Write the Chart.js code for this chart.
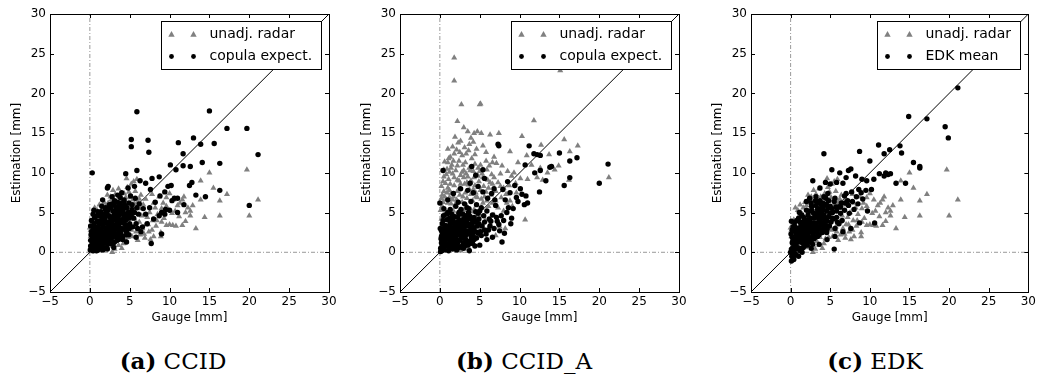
<!DOCTYPE html>
<html>
<head>
<meta charset="utf-8">
<script src="https://cdn.jsdelivr.net/npm/chart.js@4.4.1/dist/chart.umd.min.js"></script>
<style>
  body { margin: 0; background: #fff; width: 1039px; height: 378px; overflow: hidden; position: relative; }
  canvas { position: absolute; top: 0; }
  .cap { position: absolute; top: 347px; font-family: "DejaVu Serif", serif; font-size: 23px; color: #000;
         transform: translateX(-50%); white-space: nowrap; line-height: 1.2; }
</style>
</head>
<body>
<canvas id="pa" width="345" height="330" style="left:0px"></canvas>
<canvas id="pb" width="345" height="330" style="left:350px"></canvas>
<canvas id="pc" width="338" height="330" style="left:701px"></canvas>
<div class="cap" style="left:173px"><b>(a)</b> CCID</div>
<div class="cap" style="left:524px"><b>(b)</b> CCID_A</div>
<div class="cap" style="left:875px"><b>(c)</b> EDK</div>

<script>
// axis ticks (both axes, all panels)
const tickValues = [-5, 0, 5, 10, 15, 20, 25, 30];

// [gauge, estimate] pairs (dense cores estimated)
// unadjusted radar used in panels (a) and (c)
const radarUnadj = [
  [19.7,10.4],[21.1,6.6],[20.0,4.6],[15.0,10.0],[15.5,8.1],[17.2,7.3],[16.3,6.5],[16.3,4.6],[14.4,4.4],[13.3,3.0],
  [13.9,9.0],[13.9,6.6],[12.6,5.2],[12.6,4.6],[12.3,5.6],[12.0,3.9],[11.8,7.0],[11.6,6.6],[11.3,6.2],[11.0,5.9],
  [10.7,5.2],[10.4,3.4],[10.8,3.3],[10.0,3.5],[9.6,3.4],[10.0,7.4],[9.6,6.9],[9.2,6.2],[9.0,5.5],[8.9,2.0],
  [8.9,2.5],[8.0,2.0],[7.6,1.6],[8.5,4.8],[8.2,5.6],[8.0,6.2],[7.8,7.3],[7.5,5.0],[7.2,4.4],[7.0,3.5],
  [6.8,2.3],[6.5,4.6],[6.3,5.5],[6.0,6.3],[6.2,3.8],[5.8,2.6],[5.6,4.2],[5.5,8.9],[5.9,9.2],[5.2,8.6],
  [4.6,9.3],[4.9,7.6],[4.5,6.9],[5.0,5.5],[4.8,3.0],[4.4,1.7],[4.0,0.5],[3.6,0.9],[2.8,0.0],[3.2,7.3],
  [2.6,7.0],[2.2,7.2],[2.0,5.9],[1.8,6.3],[1.2,6.0],[1.5,4.8],[1.0,3.2],[0.6,2.4],[0.3,1.2],[0.2,0.3],
  [0.5,0.1],[1.1,0.4],[1.6,1.0],[2.3,1.5],[2.0,2.8],[2.6,3.5],[3.0,4.4],[3.5,5.2],[3.9,6.1],[3.4,2.6],
  [3.9,3.4],[4.2,4.6],[1.3,2.0],[0.8,1.0],[2.9,2.0],[3.7,1.9],[5.3,2.0],[6.0,1.5],[6.6,3.0],[7.4,2.6],
  [8.3,3.3],[9.3,4.3],[10.3,4.9],[11.2,4.5],[12.0,5.0],[9.6,5.8],[10.5,6.6],[8.7,7.0],[7.0,6.7],[6.4,7.2],
  [5.7,7.7],[3.6,8.0],[2.9,7.8],[0.4,3.5],[0.1,2.0],[0.9,5.3],[0.0,3.1],[0.1,2.8],[4.1,5.8],[5.4,6.6],
  [6.7,6.0],[7.9,4.0],[9.0,3.8],[11.6,3.4],[12.9,5.9],
  [0.2,3.4],[0.4,4.1],[0.7,3.8],[1.0,4.4],[1.3,5.0],[0.6,5.6],[1.6,5.6],[2.3,6.2],[2.7,6.6],[3.3,6.4],
  [3.8,7.0],[4.3,7.4],[4.7,8.2],[2.0,4.3],[2.5,5.1],[3.0,5.8],[3.5,6.0],[4.0,6.8],[4.6,6.1],[5.1,6.9],
  [5.6,6.1],[6.2,6.7],[0.3,0.8],[0.7,0.5],[1.4,0.2],[1.9,0.6],[2.4,0.8],[3.1,0.4],[3.3,1.4],[4.2,1.1],
  [4.8,1.9],[5.2,2.8],[5.7,3.2],[6.3,2.2],[6.9,1.8],[7.3,3.5],[7.8,2.8],[8.4,4.0],[1.0,2.0],[1.5,2.6],
  [2.2,2.0],[2.8,2.8],[3.4,3.5],[4.0,4.1],[4.6,5.0],[5.0,4.2]
];
const copulaA = [
  [5.9,17.7],[15.0,17.8],[17.2,15.6],[19.7,15.6],[21.1,12.3],[20.0,5.9],[5.2,14.2],[5.2,13.3],[7.3,14.1],[7.4,12.6],
  [13.0,14.4],[11.1,13.8],[13.9,13.6],[15.6,13.7],[11.7,12.4],[0.3,10.0],[10.1,11.0],[10.8,10.4],[11.7,10.9],[12.6,10.8],
  [14.1,11.3],[16.3,11.2],[16.3,7.8],[14.5,7.0],[13.3,7.2],[12.5,8.4],[12.8,8.8],[11.8,6.0],[10.2,8.4],[9.8,8.3],
  [8.7,9.5],[7.8,9.3],[4.5,9.9],[5.9,10.3],[2.3,8.3],[2.2,8.1],[7.7,1.1],[9.0,2.3],[10.6,6.8],[11.0,6.8],
  [10.3,6.5],[9.5,5.4],[9.0,5.0],[8.7,4.6],[8.0,4.2],[7.2,3.6],[6.6,3.2],[6.0,3.0],[7.6,7.9],[7.0,8.7],
  [6.3,9.0],[5.6,8.3],[4.8,8.1],[3.5,7.2],[3.1,6.5],[2.8,7.0],[4.0,7.5],[1.5,5.8],[1.0,5.1],[0.6,4.4],
  [0.2,2.6],[0.1,1.5],[0.2,0.6],[0.6,0.9],[1.1,1.6],[1.4,2.4],[1.9,3.1],[2.4,3.8],[2.9,4.5],[3.3,5.3],
  [3.8,5.9],[4.3,6.6],[4.9,6.2],[5.3,5.4],[4.7,4.5],[4.2,3.7],[3.7,3.0],[3.2,2.3],[2.7,1.7],[2.2,1.1],
  [1.6,0.7],[1.0,0.3],[0.4,0.2],[0.8,2.7],[1.2,3.5],[1.7,4.2],[2.1,5.0],[2.6,5.6],[0.4,3.2],[0.9,3.9],
  [2.0,2.0],[2.5,2.8],[3.0,3.4],[3.5,4.1],[4.0,4.9],[4.5,5.6],[1.3,1.0],[1.8,1.6],[2.3,2.4],[2.8,3.0],
  [3.4,3.7],[3.9,2.4],[4.4,3.0],[5.0,3.6],[5.5,4.3],[6.1,4.8],[6.7,5.5],[6.2,6.1],[5.7,6.8],[5.1,7.1],
  [3.4,1.5],[2.9,1.0],[4.6,2.2],[5.8,1.9],[6.4,2.6],[7.0,4.8],[7.5,5.6],[8.2,6.3],[8.8,7.1],[9.4,7.6],
  [0.2,4.0],[0.5,5.3],[0.1,3.3],[1.6,6.6],[3.8,6.9],[4.6,1.3],[3.0,0.6],[9.4,4.8],[10.0,5.3],[11.0,5.0],
  [1.9,4.6],[2.6,4.3],[3.3,4.8],[1.1,2.6],[0.6,1.8],[1.5,1.3],
  [0.1,0.8],[0.3,1.3],[0.15,2.2],[0.35,2.7],[0.05,0.3],[0.45,1.9],[0.7,0.5],[0.75,1.3],[0.65,2.2],[0.9,3.1],
  [0.55,3.6],[0.85,0.2],[0.95,2.0],[1.2,0.6],[1.3,1.6],[1.15,2.3],[1.4,2.9],[1.25,3.9],[1.45,4.5],[1.05,1.1],
  [1.6,0.3],[1.7,1.2],[1.55,1.9],[1.8,2.5],[1.65,3.3],[1.9,3.9],[1.75,4.8],[1.95,5.4],[2.1,0.6],[2.2,1.5],
  [2.05,2.5],[2.3,3.2],[2.15,3.7],[2.4,4.6],[2.25,5.3],[2.45,6.0],[2.6,1.1],[2.7,2.1],[2.55,3.1],[2.8,3.6],
  [2.65,4.4],[2.9,5.2],[2.75,6.1],[2.95,2.6],[3.1,1.3],[3.2,2.0],[3.05,2.9],[3.3,3.4],[3.15,4.1],[3.4,4.6],
  [3.25,5.7],[3.45,6.3],[3.6,1.6],[3.7,2.6],[3.55,3.3],[3.8,4.0],[3.65,4.6],[3.9,5.2],[3.75,6.2],[3.95,3.0],
  [4.1,2.0],[4.2,2.9],[4.05,4.0],[4.3,4.6],[4.15,5.3],[4.4,5.9],[4.25,6.4],[4.45,3.5],[4.6,2.6],[4.7,3.3],
  [4.55,4.1],[4.8,5.0],[4.65,5.6],[4.9,4.3],[4.95,3.0],[5.2,4.6],[5.4,3.2],[5.6,5.0],[5.8,3.6],[5.3,6.0],
  [5.9,5.6],
  [0.3,0.3],[0.5,1.5],[0.8,1.8],[1.0,2.2],[1.3,2.8],[1.6,3.6],[1.9,4.3],[2.2,3.0],[2.5,3.4],[2.8,4.1],
  [3.1,4.9],[3.4,5.1],[3.7,5.4],[4.0,5.8],[1.2,4.6],[0.7,3.2],[0.3,1.8],[1.8,0.4],[2.4,1.9],[3.0,2.6],
  [3.6,3.5],[4.2,4.2],[4.5,4.8],[2.0,2.7],[2.7,2.4],[3.3,2.9],[3.9,3.8],[1.5,1.6],[1.0,0.8],[0.6,0.5],
  [2.2,0.4],[3.5,2.0],[4.1,1.6],[4.9,2.2],[5.1,5.0],[1.4,5.1],[0.9,4.6],[0.4,4.8],[2.0,5.6],[3.0,6.0]
];
// unadjusted radar used in panel (b)
const radarUnadjB = [
  [1.8,24.5],[1.8,21.6],[2.7,18.6],[5.1,18.7],[5.0,18.6],[2.2,16.5],[11.8,16.6],[3.0,15.7],[3.5,15.2],[4.3,15.0],
  [4.7,15.2],[5.2,15.0],[6.3,14.8],[7.4,15.0],[1.9,14.5],[10.3,14.6],[15.6,14.2],[17.3,13.4],[12.7,13.5],[16.3,12.7],
  [21.2,9.4],[13.5,10.0],[14.4,10.4],[16.2,9.1],[10.7,4.1],[8.8,12.7],[15.1,22.9],[1.6,13.3],[2.1,12.9],[3.9,14.4],
  [3.7,13.6],[4.6,13.0],[5.8,12.6],[6.8,12.0],[1.3,12.0],[1.5,11.0],[2.4,11.5],[3.2,11.3],[4.0,11.8],[5.1,11.0],
  [6.2,10.9],[7.1,11.2],[7.8,10.9],[8.5,10.2],[9.3,10.0],[9.8,11.3],[10.9,12.2],[11.5,11.0],[12.2,9.4],[12.9,9.1],
  [14.9,10.9],[13.7,12.3],[0.9,10.5],[0.5,9.5],[0.2,8.3],[0.3,7.2],[0.1,5.3],[0.4,6.3],[0.7,8.7],[1.1,9.2],
  [1.6,9.9],[2.0,10.3],[2.6,9.7],[3.0,10.3],[3.5,9.5],[4.2,10.2],[4.8,9.6],[5.4,9.4],[6.0,9.1],[6.6,8.6],
  [7.3,8.8],[8.0,8.1],[8.7,8.4],[9.5,8.7],[10.1,9.3],[1.2,7.8],[1.8,8.4],[2.4,8.0],[3.1,8.6],[3.7,7.9],
  [4.4,8.4],[5.1,7.8],[5.8,7.6],[6.4,7.2],[7.0,6.5],[7.7,6.9],[8.4,6.2],[9.1,5.8],[0.8,6.6],[1.4,6.1],
  [2.1,6.6],[2.8,6.3],[3.4,6.8],[4.1,6.5],[4.7,6.9],[5.4,6.2],[6.1,5.8],[6.8,4.7],[7.5,3.2],[8.2,3.0],
  [0.6,4.5],[1.1,4.8],[1.7,5.2],[2.3,5.0],[3.0,5.3],[3.6,4.9],[4.3,5.4],[5.0,4.7],[5.7,4.0],[0.3,3.2],
  [0.9,3.3],[1.5,3.7],[2.2,3.4],[2.9,3.8],[0.2,1.8],[0.7,2.1],[1.3,2.0],[0.4,0.5],[1.0,0.9],[2.0,1.4],
  [3.0,1.1],[2.6,0.2],[3.6,0.6],[4.0,2.2],[5.0,2.8],[6.2,3.3],[7.0,2.1],[1.0,13.0],[2.6,14.0],[3.3,12.4],
  [0.6,11.4],[1.2,10.1],[9.0,9.6],[11.0,9.2],[12.6,10.6],[7.6,9.9],[6.5,9.8],
  [0.2,4.2],[0.5,7.7],[0.9,7.5],[1.3,8.6],[1.7,7.0],[2.2,9.1],[2.6,8.6],[3.0,9.4],[3.4,8.8],[3.9,9.0],
  [4.5,7.5],[4.9,8.9],[5.5,8.3],[6.1,8.1],[6.8,9.4],[1.0,11.3],[1.8,12.4],[2.8,12.2],[3.6,12.8],[4.4,12.3],
  [5.4,13.4],[2.3,13.8],[4.2,13.9],[0.4,8.9],[0.8,9.8],[1.4,10.6],[2.2,10.9],[2.9,11.0],[3.7,10.6],[4.4,11.1],
  [5.0,10.2],[5.8,11.5],[6.6,11.3],[0.3,5.8],[0.7,5.2],[1.2,6.9],[1.9,6.0],[2.5,7.2],[3.2,7.5],[3.9,7.3],
  [4.5,7.0],[5.2,6.7],[5.9,6.5],[6.6,6.2],[7.3,5.6],[8.0,5.2],[8.8,6.5],[9.6,7.5],[1.5,4.2],[2.6,4.4],
  [3.4,5.8],[4.0,5.1],[0.9,1.5],[1.8,0.4],[2.4,2.4],[3.3,0.4],
  [0.2,6.8],[0.6,7.0],[1.0,8.1],[1.4,7.4],[1.8,9.4],[2.4,9.0],[2.8,10.1],[3.3,9.9],[3.8,10.3],[4.3,9.4],
  [4.8,10.6],[5.3,9.9],[5.9,10.4],[1.1,11.8],[1.7,11.5],[2.5,12.6],[3.1,13.2],[0.5,10.4],[1.0,6.2],[1.6,6.6],
  [2.2,7.7],[2.9,7.0],[3.6,8.5],[4.2,7.9],[4.8,8.2],[5.6,7.0],[6.3,8.8],[7.0,7.7],[7.6,8.3],[8.3,7.3]
];
const copulaB = [
  [21.1,11.1],[20.0,8.7],[17.2,11.9],[16.3,11.5],[16.3,9.4],[15.6,8.4],[15.0,12.5],[14.0,10.8],[13.8,10.7],[13.3,9.0],
  [12.6,12.2],[12.2,12.3],[11.8,12.4],[12.5,7.6],[12.6,10.3],[11.9,10.0],[11.2,13.4],[11.0,6.2],[10.8,7.1],[10.7,11.0],
  [7.3,13.6],[0.4,10.3],[0.0,6.2],[7.8,1.3],[3.7,0.2],[5.4,10.4],[4.0,10.8],[7.4,13.4],[5.6,9.3],[8.5,8.9],
  [9.4,8.4],[10.1,8.0],[8.8,7.5],[9.6,6.9],[10.3,7.3],[10.6,6.0],[9.2,5.5],[8.4,5.0],[7.7,4.6],[8.9,3.6],
  [7.0,5.9],[6.5,7.4],[6.0,6.8],[5.4,7.6],[4.8,8.3],[4.2,7.5],[3.5,7.8],[2.6,8.0],[1.7,7.4],[1.0,6.6],
  [0.5,5.5],[2.3,6.3],[3.1,6.1],[3.9,6.4],[4.6,6.0],[5.2,5.6],[5.9,5.2],[6.6,4.7],[7.2,3.9],[6.3,3.3],
  [5.6,2.8],[4.9,3.6],[4.3,4.4],[3.6,5.0],[2.9,4.8],[2.2,4.4],[1.5,4.8],[0.9,4.1],[0.3,3.6],[0.6,2.8],
  [1.2,3.1],[1.8,3.6],[2.5,3.3],[3.2,3.9],[3.8,3.2],[4.5,2.6],[5.2,2.1],[5.9,1.6],[6.6,1.9],[4.0,1.5],
  [3.3,2.2],[2.7,2.5],[2.0,2.3],[1.4,2.0],[0.8,1.6],[0.2,1.2],[0.5,0.4],[1.1,0.7],[1.7,1.1],[2.3,1.5],
  [2.9,1.2],[3.5,0.9],[4.4,0.8],[0.3,2.3],[0.1,0.1],[1.3,5.4],[2.0,5.8],[6.2,4.2],[7.5,2.7],[8.1,2.4],
  [5.0,0.9],[4.8,4.9],[5.5,4.6],[6.9,6.6],[7.9,7.9],[8.2,6.6],[9.8,6.4],[3.8,8.7],[4.5,9.7],[6.8,8.0],
  [1.0,2.6],[2.5,4.0],[3.0,3.0],[3.4,2.7],[4.1,3.7],[1.6,2.7],[2.1,3.0],[2.7,3.7],[3.3,4.4],[3.9,4.2],
  [4.5,5.1],[1.2,4.2],[0.6,3.4],[0.2,2.0],
  [0.1,0.5],[0.3,0.9],[0.15,1.7],[0.35,2.9],[0.05,3.0],[0.45,4.6],[0.25,0.2],[0.6,0.3],[0.75,1.1],[0.65,2.2],
  [0.9,3.3],[0.55,1.9],[0.85,4.8],[0.95,2.8],[1.1,0.2],[1.3,1.3],[1.15,2.4],[1.4,3.6],[1.25,4.3],[1.45,0.8],
  [1.05,1.7],[1.6,0.4],[1.7,1.7],[1.55,3.0],[1.8,2.6],[1.65,4.1],[1.9,0.8],[1.95,3.2],[2.1,0.3],[2.2,1.1],
  [2.05,2.0],[2.3,2.9],[2.15,3.8],[2.4,5.0],[2.45,2.2],[2.6,0.7],[2.7,1.8],[2.55,2.9],[2.8,3.9],[2.65,5.4],
  [2.9,2.2],[2.95,0.5],[3.1,0.8],[3.2,1.7],[3.05,2.6],[3.3,3.3],[3.15,4.6],[3.4,5.6],[3.45,1.3],[3.6,1.4],
  [3.7,2.3],[3.55,3.6],[3.8,4.5],[3.65,5.5],[3.9,2.7],[3.95,1.9],[4.1,1.1],[4.2,2.0],[4.3,3.1],[4.4,4.0],
  [4.6,1.8],[4.7,3.3],[4.9,4.2],[4.8,2.4],[5.0,5.2],[5.3,3.3],[5.6,3.8],[5.8,2.3],[6.1,2.8],[6.4,3.9],
  [6.8,3.0],[7.1,4.4],[7.4,3.5],[8.0,4.0],[8.6,5.6],[9.0,4.3],
  [0.3,0.6],[0.5,1.4],[0.8,2.3],[1.0,3.0],[1.3,3.8],[1.6,2.2],[1.9,1.6],[2.2,2.6],[2.5,1.5],[2.8,3.2],
  [3.1,3.6],[3.4,4.1],[3.7,2.7],[4.0,3.3],[4.3,1.6],[1.2,1.0],[0.7,0.8],[1.8,1.0],[2.4,0.6],[3.0,1.9],
  [3.6,1.0],[4.2,2.5],[4.6,3.8],[5.1,2.6],[0.4,4.0],[1.0,5.0],[1.8,4.5],[2.4,4.8],[3.0,4.2],[3.6,4.6],
  [0.2,2.7],[0.9,2.0],[1.5,1.4],[2.0,3.5],[2.6,2.8],[3.2,2.3]
];
const edkMean = [
  [21.1,20.7],[14.9,17.1],[17.2,16.8],[19.5,15.8],[19.9,14.4],[4.2,12.4],[8.7,12.7],[11.1,13.5],[11.8,12.4],[12.5,12.9],
  [13.8,13.4],[14.0,12.5],[15.5,11.3],[16.3,10.8],[16.3,10.6],[10.0,11.5],[7.6,10.5],[7.3,10.3],[6.2,10.0],[5.2,10.4],
  [10.5,9.2],[13.3,8.7],[12.6,9.9],[12.0,10.0],[11.8,9.6],[14.5,8.7],[8.7,3.7],[10.6,3.7],[5.5,0.4],[12.3,9.8],
  [11.2,9.9],[9.6,9.0],[9.0,9.2],[8.2,9.6],[7.0,9.4],[6.6,8.7],[5.8,8.8],[5.0,8.6],[4.4,8.8],[3.7,8.1],
  [2.8,9.0],[3.2,7.0],[2.4,6.8],[2.0,6.4],[9.5,7.8],[10.2,7.9],[8.9,7.5],[8.3,7.0],[7.7,7.6],[7.2,6.5],
  [6.8,7.1],[6.4,6.2],[6.0,5.7],[5.5,6.4],[5.0,5.8],[4.6,5.2],[4.0,5.7],[3.5,5.0],[3.0,4.3],[2.5,3.6],
  [2.0,3.0],[1.5,2.4],[1.0,1.8],[0.6,1.2],[0.3,0.6],[0.1,-1.1],[0.3,-0.6],[0.7,-0.3],[1.2,0.2],[1.8,0.9],
  [2.3,1.6],[2.8,2.2],[3.3,2.8],[3.8,3.4],[4.3,3.9],[4.8,4.5],[5.3,5.0],[5.8,4.4],[6.3,4.9],[6.8,5.3],
  [7.3,5.9],[7.8,6.4],[8.5,6.1],[9.1,6.7],[9.7,5.2],[7.6,3.0],[6.6,2.6],[5.6,2.0],[4.6,1.6],[3.6,1.0],
  [2.6,0.5],[0.0,0.0],[0.2,1.9],[0.4,2.8],[0.1,3.9],[0.5,3.3],[0.8,2.5],[1.3,3.3],[1.7,4.0],[2.2,4.7],
  [2.7,5.3],[3.2,5.9],[3.7,6.5],[4.2,7.0],[4.7,7.4],[1.0,-0.5],[0.4,0.2],[1.5,1.2],[2.0,1.8],[2.5,2.6],
  [3.0,3.1],[3.5,3.8],[4.0,4.4],[4.5,3.3],[5.1,3.8],[5.6,3.0],[6.1,3.6],[1.1,5.0],[0.8,4.0],[1.6,3.1],
  [2.1,3.9],[2.9,4.9],[3.4,4.4],[1.3,1.4],[0.5,0.9],[0.2,-0.2],
  [0.1,0.4],[0.2,1.2],[0.05,2.3],[0.3,3.2],[0.15,-0.5],[0.4,-0.9],[0.5,0.6],[0.6,1.7],[0.7,2.2],[0.9,3.0],
  [0.55,-0.2],[1.1,0.5],[1.2,1.3],[1.05,2.3],[1.35,2.8],[1.2,3.8],[1.45,0.0],[1.4,1.8],[1.6,0.6],[1.7,1.6],
  [1.55,2.5],[1.8,3.5],[1.65,4.4],[1.9,2.2],[1.95,1.3],[2.1,0.9],[2.2,2.1],[2.05,3.4],[2.3,3.1],[2.15,4.1],
  [2.4,5.2],[2.45,1.8],[2.6,1.3],[2.7,2.9],[2.55,4.3],[2.8,3.7],[2.65,5.8],[2.9,2.5],[2.95,1.7],[3.1,1.9],
  [3.2,3.4],[3.05,4.8],[3.3,2.5],[3.15,6.5],[3.4,5.4],[3.45,3.0],[3.6,2.2],[3.7,4.0],[3.55,5.5],[3.8,4.8],
  [3.65,2.9],[3.9,6.0],[3.95,3.7],[4.1,2.9],[4.2,4.7],[4.05,6.2],[4.3,3.4],[4.15,5.3],[4.4,4.3],[4.45,6.8],
  [4.6,3.9],[4.7,5.6],[4.55,2.5],[4.8,6.5],[4.9,3.3],[5.0,4.9],[5.2,5.5],[5.4,4.2],[5.6,6.8],[5.8,5.2],
  [5.9,3.8],[6.3,5.7],[6.5,4.0],[6.9,6.2],[7.4,4.9],[7.0,7.4],[8.0,5.4],[8.6,7.9],
  [0.3,1.5],[0.6,2.6],[0.9,1.4],[1.2,2.7],[1.5,3.6],[1.8,2.9],[2.1,2.6],[2.4,3.9],[2.7,3.4],[3.0,3.7],
  [3.3,4.9],[3.6,4.3],[3.9,5.1],[4.2,5.9],[4.5,6.1],[1.0,4.3],[0.5,3.8],[0.2,2.8],[1.4,4.7],[2.0,5.3],
  [2.6,6.2],[3.4,6.2],[1.6,1.9],[2.2,1.3],[2.8,1.0],[3.4,2.0],[4.0,2.5],[4.6,2.9],[5.3,4.3],[5.7,5.7],
  [0.8,0.4],[0.4,-0.4],[0.7,0.9]
];

const GRAY = 'rgb(128,128,128)';
const minusFmt = v => (v < 0 ? '\u2212' + Math.abs(v) : String(v));

// frame, inward ticks and in-plot legend, matplotlib style
const framePlugin = {
  id: 'frame',
  afterDatasetsDraw(chart, args, opts) {
    const { ctx, chartArea: a, scales } = chart;
    const xs = scales.x, ys = scales.y;
    ctx.save();
    ctx.strokeStyle = '#000';
    ctx.lineWidth = 1;
    ctx.beginPath();
    tickValues.forEach(v => {
      const px = Math.round(xs.getPixelForValue(v)) + 0.5;
      ctx.moveTo(px, a.bottom); ctx.lineTo(px, a.bottom - 4);
      ctx.moveTo(px, a.top); ctx.lineTo(px, a.top + 4);
      const py = Math.round(ys.getPixelForValue(v)) + 0.5;
      ctx.moveTo(a.left, py); ctx.lineTo(a.left + 4, py);
      ctx.moveTo(a.right, py); ctx.lineTo(a.right - 4, py);
    });
    ctx.stroke();
    ctx.strokeRect(Math.round(a.left) + 0.5, Math.round(a.top) + 0.5,
                   Math.round(a.right - a.left), Math.round(a.bottom - a.top));

    // legend box
    ctx.font = '14px "DejaVu Sans"';
    const labels = opts.labels;
    const tw = Math.max(...labels.map(t => ctx.measureText(t).width));
    const w = Math.round(48 + tw + 9), h = 48;
    const bx = Math.round(a.right - 8 - w) + 0.5, by = Math.round(a.top + 7) + 0.5;
    ctx.fillStyle = '#fff';
    ctx.fillRect(bx, by, w, h);
    ctx.strokeRect(bx, by, w, h);
    const rows = [by + 13, by + 35];
    [bx + 10, bx + 32].forEach(mx => {
      ctx.fillStyle = GRAY;
      ctx.beginPath();
      ctx.moveTo(mx, rows[0] - 3.5);
      ctx.lineTo(mx + 3.2, rows[0] + 2.2);
      ctx.lineTo(mx - 3.2, rows[0] + 2.2);
      ctx.closePath();
      ctx.fill();
      ctx.fillStyle = '#000';
      ctx.beginPath();
      ctx.arc(mx, rows[1], 2.4, 0, Math.PI * 2);
      ctx.fill();
    });
    ctx.fillStyle = '#000';
    ctx.textBaseline = 'middle';
    ctx.textAlign = 'left';
    ctx.fillText(labels[0], bx + 48, rows[0]);
    ctx.fillText(labels[1], bx + 48, rows[1]);
    ctx.restore();
  }
};

function makePanel(id, radar, est, estLabel, padRight) {
  const pts = arr => arr.map(p => ({ x: p[0], y: p[1] }));
  new Chart(document.getElementById(id), {
    type: 'scatter',
    data: {
      datasets: [
        { label: estLabel, data: pts(est), order: 1,
          pointStyle: 'circle', pointRadius: 2.7, pointBackgroundColor: '#000', pointBorderWidth: 0 },
        { label: 'unadj. radar', data: pts(radar), order: 2,
          pointStyle: 'triangle', pointRadius: 3.5, pointBackgroundColor: GRAY, pointBorderWidth: 0 },
        { label: '1:1', data: [{ x: -5, y: -5 }, { x: 30, y: 30 }], order: 3, showLine: true,
          borderColor: '#000', borderWidth: 1, pointRadius: 0 },
        { label: 'x0', data: [{ x: 0, y: -5 }, { x: 0, y: 30 }], order: 4, showLine: true,
          borderColor: '#999', borderWidth: 1, borderDash: [4, 2, 1, 2], pointRadius: 0 },
        { label: 'y0', data: [{ x: -5, y: 0 }, { x: 30, y: 0 }], order: 4, showLine: true,
          borderColor: '#999', borderWidth: 1, borderDash: [4, 2, 1, 2], pointRadius: 0 }
      ]
    },
    options: {
      responsive: false,
      animation: false,
      devicePixelRatio: 1,
      layout: { padding: { top: 14, right: padRight, left: 0, bottom: 0 } },
      plugins: {
        legend: { display: false },
        tooltip: { enabled: false },
        frame: { labels: ['unadj. radar', estLabel] }
      },
      scales: {
        x: {
          type: 'linear', min: -5, max: 30,
          afterBuildTicks: s => { s.ticks = tickValues.map(v => ({ value: v })); },
          afterFit: s => { s.height = 38; },
          grid: { display: false, drawTicks: false }, border: { display: false },
          ticks: { color: '#000', font: { family: 'DejaVu Sans', size: 12 }, padding: 3,
                   maxRotation: 0, autoSkip: false, callback: minusFmt },
          title: { display: true, text: 'Gauge [mm]', color: '#000',
                   font: { family: 'DejaVu Sans', size: 12 }, padding: { top: 0, bottom: 5 } }
        },
        y: {
          type: 'linear', min: -5, max: 30,
          afterBuildTicks: s => { s.ticks = tickValues.map(v => ({ value: v })); },
          afterFit: s => { s.width = 50; },
          grid: { display: false, drawTicks: false }, border: { display: false },
          ticks: { color: '#000', font: { family: 'DejaVu Sans', size: 12 }, padding: 4,
                   autoSkip: false, callback: minusFmt },
          title: { display: true, text: 'Estimation [mm]', color: '#000',
                   font: { family: 'DejaVu Sans', size: 12 }, padding: { top: 10, bottom: 0 } }
        }
      }
    },
    plugins: [framePlugin]
  });
}

makePanel('pa', radarUnadj, copulaA, 'copula expect.', 16);
makePanel('pb', radarUnadjB, copulaB, 'copula expect.', 16);
makePanel('pc', radarUnadj, edkMean, 'EDK mean', 9);
</script>
</body>
</html>
